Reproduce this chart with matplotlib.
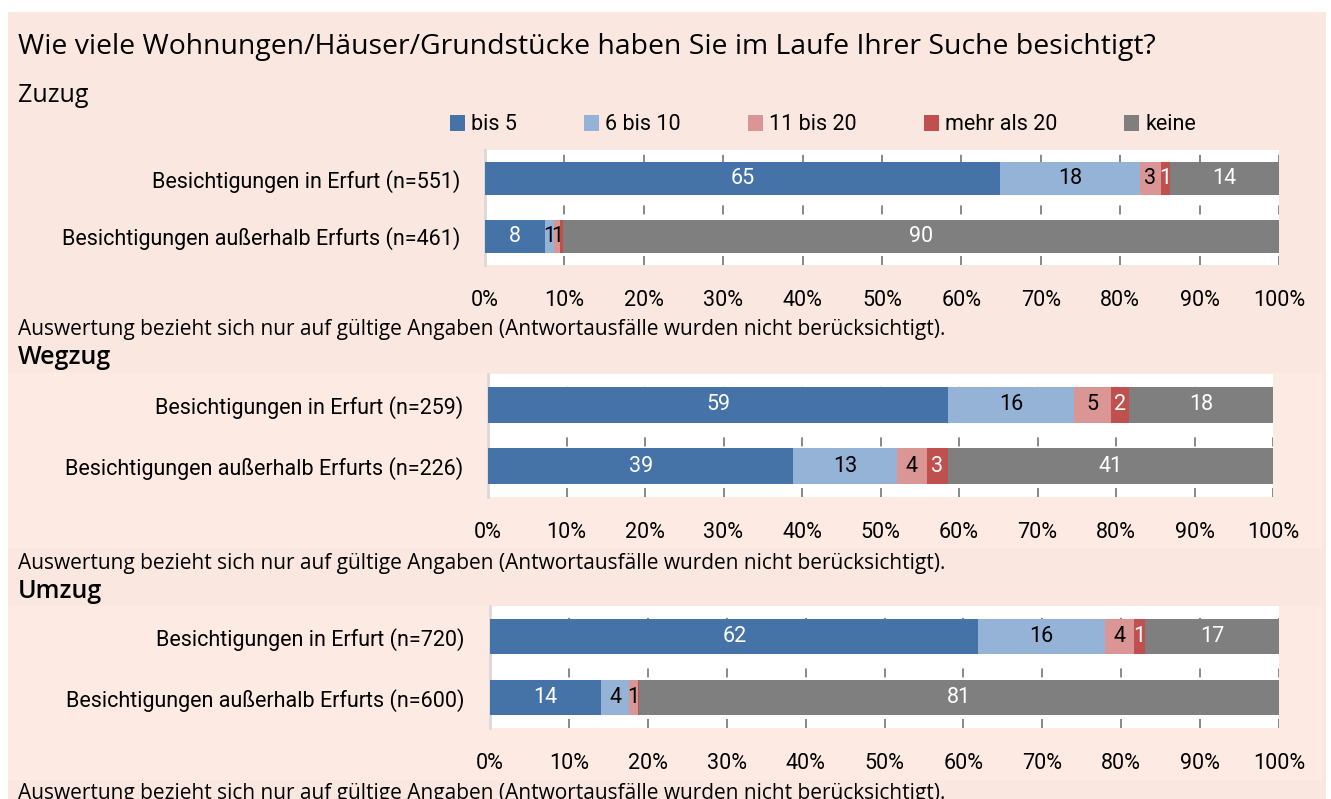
import matplotlib.pyplot as plt
from matplotlib.patches import Rectangle

# data (percent)
categories = ["Besichtigungen in Erfurt", "Besichtigungen außerhalb Erfurts"]
series = ["bis 5", "6 bis 10", "11 bis 20", "mehr als 20", "keine"]
tick_labels = [f"{p}%" for p in range(0, 101, 10)]

zuzug_n = [551, 461]
zuzug_erfurt = [64.9, 17.6, 2.6, 1.2, 13.7]
zuzug_ausserhalb = [7.6, 1.1, 0.7, 0.4, 90.2]

wegzug_n = [259, 226]
wegzug_erfurt = [58.6, 16.1, 4.6, 2.4, 18.3]
wegzug_ausserhalb = [38.9, 13.2, 3.8, 2.7, 41.4]

umzug_n = [720, 600]
umzug_erfurt = [61.9, 16.0, 3.7, 1.4, 17.0]
umzug_ausserhalb = [14.1, 3.5, 1.1, 0.2, 81.1]

colors = ["#4673A7", "#95B3D7", "#D99694", "#C0504D", "#7F7F7F"]
text_colors = ["white", "black", "black", "white", "white"]

W, H = 1331, 799
NARROW = ["Liberation Sans Narrow", "Roboto", "DejaVu Sans"]
WIDE = ["Open Sans", "DejaVu Sans"]
FS = 15.5
footnote = "Auswertung bezieht sich nur auf gültige Angaben (Antwortausfälle wurden nicht berücksichtigt)."

fig = plt.figure(figsize=(W / 100, H / 100), dpi=100)
fig.patch.set_facecolor("white")


def px_rect(x0, y0, x1, y1, color):
    fig.patches.append(Rectangle((x0 / W, 1 - y1 / H), (x1 - x0) / W, (y1 - y0) / H,
                                 transform=fig.transFigure, facecolor=color,
                                 edgecolor="none", zorder=-5))


px_rect(8, 12, 1326, 799, "#F9E7E0")
px_rect(8, 373, 1322, 548, "#FDEAE3")
px_rect(8, 606, 1322, 780, "#FDEAE3")


def px_axes(x0, y0, x1, y1):
    return fig.add_axes([x0 / W, 1 - y1 / H, (x1 - x0) / W, (y1 - y0) / H])


def draw_panel(ax, erfurt, ausserhalb, n):
    rows = [erfurt, ausserhalb]
    ypos = [1, 0]
    lefts = [0, 0]
    handles = []
    for j, name in enumerate(series):
        vals = [r[j] for r in rows]
        bars = ax.barh(ypos, vals, left=lefts, height=0.58, color=colors[j], label=name, zorder=3)
        labels = [str(round(v)) if round(v) >= 1 else "" for v in vals]
        ax.bar_label(bars, labels=labels, label_type="center", color=text_colors[j],
                     fontsize=FS, family=NARROW)
        lefts = [a + b for a, b in zip(lefts, vals)]
        handles.append(bars)
    ax.set_xlim(0, 100)
    ax.set_ylim(-0.5, 1.5)
    ax.set_facecolor("white")
    ax.set_xticks(range(0, 101, 10))
    ax.set_xticklabels(tick_labels, family=NARROW, fontsize=FS)
    ax.set_yticks(ypos)
    ax.set_yticklabels([f"{c} (n={k})" for c, k in zip(categories, n)], family=NARROW, fontsize=FS)
    ax.tick_params(axis="x", length=0, pad=18)
    ax.tick_params(axis="y", length=0, pad=18)
    ax.grid(axis="x", color="#7F7F7F", linestyle=(0, (5, 9)), linewidth=1.3, zorder=1)
    for s in ["top", "right", "bottom"]:
        ax.spines[s].set_visible(False)
    ax.spines["left"].set_color("#D9D9D9")
    ax.spines["left"].set_linewidth(2)
    return handles


ax1 = px_axes(485, 150, 1279, 265)
handles = draw_panel(ax1, zuzug_erfurt, zuzug_ausserhalb, zuzug_n)
ax2 = px_axes(488, 374, 1273, 497)
draw_panel(ax2, wegzug_erfurt, wegzug_ausserhalb, wegzug_n)
ax3 = px_axes(490, 606, 1279, 728)
draw_panel(ax3, umzug_erfurt, umzug_ausserhalb, umzug_n)

fig.text(18 / W, 1 - 47 / H, "Wie viele Wohnungen/Häuser/Grundstücke haben Sie im Laufe Ihrer Suche besichtigt?",
         family=WIDE, fontsize=20.4, va="center", ha="left")
for y, name, wt in [(96, "Zuzug", "normal"), (358, "Wegzug", "semibold"), (591, "Umzug", "semibold")]:
    fig.text(18 / W, 1 - y / H, name, family=WIDE, fontsize=18, fontweight=wt, va="center", ha="left")
for y in [330, 563, 793]:
    fig.text(18 / W, 1 - y / H, footnote, family=WIDE, fontsize=15, va="center", ha="left")

fig.legend(handles, series, loc="center left", bbox_to_anchor=(439 / W, 1 - 125 / H), ncol=5,
           frameon=False, borderpad=0, handlelength=0.7, handleheight=0.7, handletextpad=0.3,
           columnspacing=3.1, prop={"family": NARROW, "size": FS})

fig.savefig("out.png", dpi=100, facecolor=fig.get_facecolor())
